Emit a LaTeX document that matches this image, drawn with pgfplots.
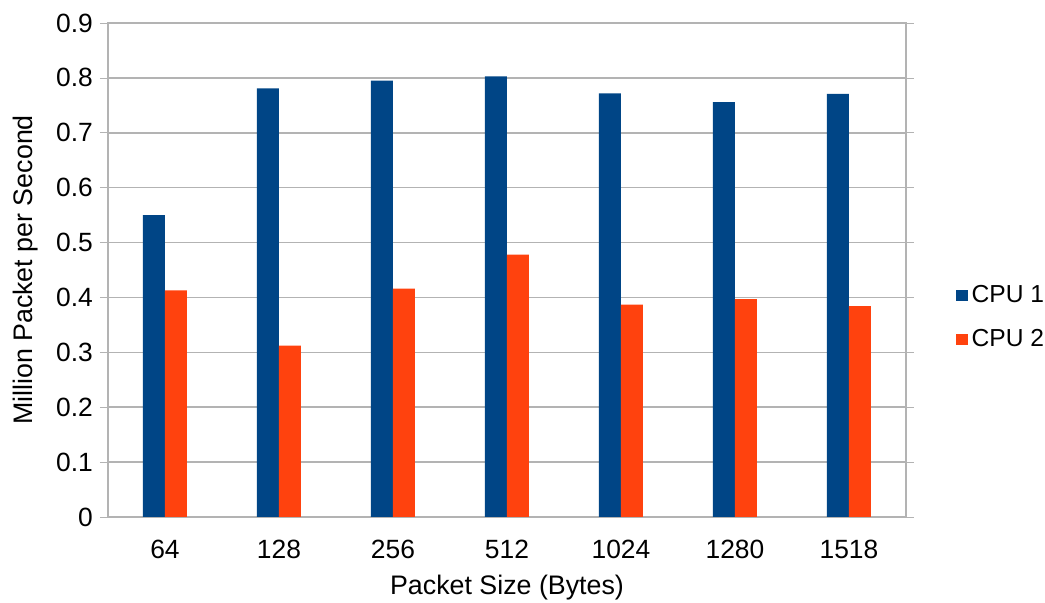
\documentclass[border=0pt]{standalone}
\usepackage{pgfplots}
\pgfplotsset{compat=1.18}
\usepackage{fontspec}
\setmainfont{Liberation Sans}
\definecolor{cpuone}{HTML}{004586}
\definecolor{cputwo}{HTML}{FF420E}
\definecolor{gridc}{HTML}{B3B3B3}
\begin{document}
\begin{tikzpicture}
\path[use as bounding box] (-54pt,-43pt) rectangle (468.5pt,258.5pt);
\begin{axis}[
  scale only axis,
  width=399pt, height=247pt,
  ybar=0pt, bar width=11pt,
  xmin=-0.5, xmax=6.5,
  ymin=0, ymax=0.9,
  ytick={0,0.1,...,0.9},
  xtick={0,1,2,3,4,5,6},
  xticklabels={64,128,256,512,1024,1280,1518},
  major x tick style={draw=none},
  ytick style={gridc, thin},
  tick align=outside,
  major tick length=4pt,
  ymajorgrids,
  grid style={gridc, line width=0.8pt},
  axis line style={gridc, line width=0.8pt},
  tick label style={font=\fontsize{13.2}{15}\selectfont},
  /pgf/number format/assume math mode=true,
  yticklabel style={/pgf/number format/fixed, /pgf/number format/precision=1},
  label style={font=\fontsize{13.4}{15}\selectfont},
  xlabel={Packet Size (Bytes)},
  ylabel={Million Packet per Second},
  xlabel style={at={(axis description cs:0.5,-0.1437)}, anchor=center},
  ylabel style={at={(axis description cs:-0.1035,0.5)}, anchor=center, rotate=0},
  xticklabel style={yshift=-4pt},
  legend style={draw=none, at={(axis description cs:1.055,0.404)}, anchor=west,
    font=\fontsize{12.3}{14}\selectfont, row sep=8pt, fill=none},
  legend cell align=left,
  legend image code/.code={\fill[#1] (0cm,-0.1cm) rectangle (0.2cm,0.1cm);},
]
\addplot[fill=cpuone, draw=none] coordinates {(0,0.550) (1,0.781) (2,0.795) (3,0.803) (4,0.772) (5,0.756) (6,0.771)};
\addplot[fill=cputwo, draw=none] coordinates {(0,0.413) (1,0.312) (2,0.416) (3,0.478) (4,0.387) (5,0.397) (6,0.384)};
\legend{CPU 1, CPU 2}
\end{axis}
\end{tikzpicture}
\end{document}
